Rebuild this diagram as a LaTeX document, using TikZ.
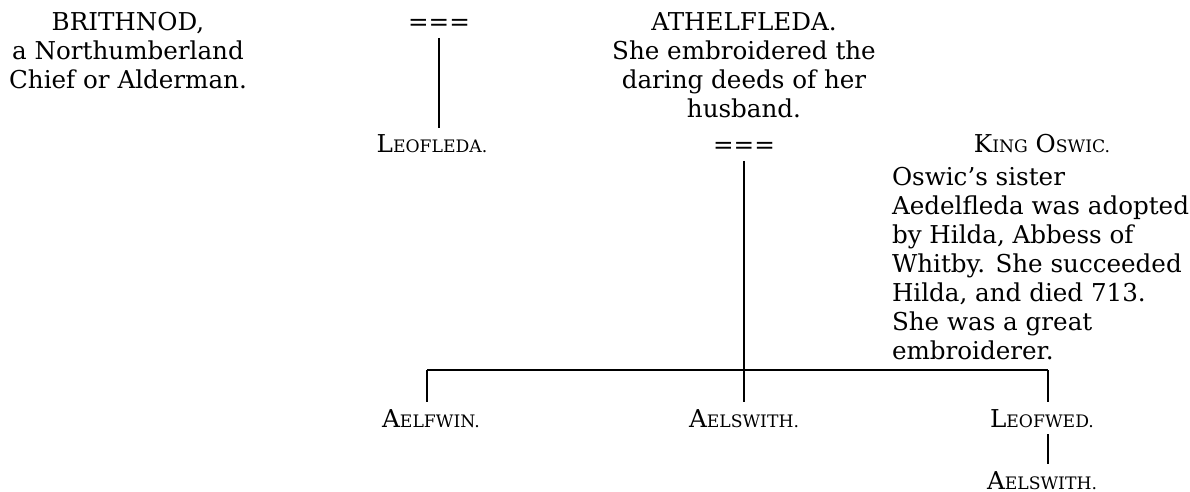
\documentclass[tikz,border=0pt]{standalone}
\usepackage{fontspec}
\setmainfont{DejaVu Serif}
\newcommand\smc[2]{#1{\fontsize{8.6pt}{10pt}\selectfont #2}}
\newcommand\blk[2]{\begin{tabular}[t]{@{}#1@{}}#2\end{tabular}}
\begin{document}
\begin{tikzpicture}[x=0.5pt,y=-0.5pt,
  every node/.style={inner sep=0pt,outer sep=3.5pt,anchor=base,
    font=\fontsize{12.3pt}{14.45pt}\selectfont},
  line/.style={line width=1pt}]
\useasboundingbox (0,0) rectangle (1190,492);
% top row
\node (brith) at (128,31) {\blk{c}{BRITHNOD,\\a Northumberland\\Chief or Alderman.}};
\node (eq1) at (439,31) {===};
\node (athel) at (744,31) {\blk{c}{ATHELFLEDA.\\She embroidered the\\daring deeds of her\\husband.}};
% second row
\node (leofleda) at (432,153) {\smc{L}{EOFLEDA.}};
\node (eq2) at (744,154) {===};
\node (oswic) at (1042,153) {\smc{K}{ING} \smc{O}{SWIC.}};
\node[anchor=base west,outer sep=0pt] (note) at (892,186) {\blk{l}{Oswic’s sister\\Aedelfleda was adopted\\by Hilda, Abbess of\\Whitby. She succeeded\\Hilda, and died 713.\\She was a great\\embroiderer.}};
% children
\node (aelfwin) at (431,427) {\smc{A}{ELFWIN.}};
\node (aelswith) at (744,427) {\smc{A}{ELSWITH.}};
\node (leofwed) at (1042,427) {\smc{L}{EOFWED.}};
\node (aelswith2) at (1042,489) {\smc{A}{ELSWITH.}};
% connectors
\coordinate (jl) at (427,370);
\coordinate (jr) at (1048,370);
\draw[line] (eq1.south) -- (eq1.south |- leofleda.north);
\draw[line] (eq2.south) -- (eq2.south |- aelswith.north);
\draw[line] (jl) -- (jr);
\draw[line] (jl) -- (jl |- aelfwin.north);
\draw[line] (jr) -- (jr |- leofwed.north);
\draw[line] (jr |- leofwed.south) -- (jr |- aelswith2.north);
\end{tikzpicture}
\end{document}
